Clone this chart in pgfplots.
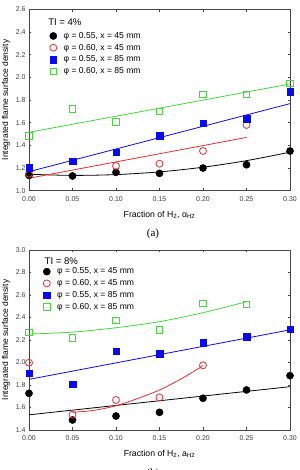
\documentclass[border=0pt]{standalone}
\usepackage{fontspec}
\setmainfont{Liberation Sans}
\newfontfamily\serifa{Liberation Serif}
\usepackage{pgfplots}
\pgfplotsset{compat=1.18}
\definecolor{cred}{RGB}{235,45,45}
\definecolor{cblue}{RGB}{10,10,235}
\definecolor{cgreen}{RGB}{70,215,60}
\definecolor{axgray}{RGB}{70,70,70}
\pgfplotsset{
  mystyle/.style={
    scale only axis, width=261bp,
    xmin=0, xmax=0.30,
    xtick={0,0.05,0.10,0.15,0.20,0.25,0.30},
    scaled x ticks=false, scaled y ticks=false,
    tick align=inside, major tick length=2.5bp,
    axis line style={axgray, line width=0.6pt},
    every tick/.style={axgray, line width=0.6pt},
    /pgf/number format/assume math mode=true,
    xticklabel style={font=\fontsize{7}{8}\selectfont, text=black!75, yshift=-2.5bp,
      /pgf/number format/.cd, fixed, fixed zerofill, precision=2},
    yticklabel style={font=\fontsize{7}{8}\selectfont, text=black!75,
      /pgf/number format/.cd, fixed, fixed zerofill, precision=1},
    ylabel={Integrated flame surface density},
    ylabel style={at={(axis description cs:-0.088,0.5)}, anchor=center, font=\fontsize{8.5}{10}\selectfont},
    xlabel style={at={(axis description cs:0.5,0)}, yshift=-24bp, anchor=center, font=\fontsize{8.7}{10}\selectfont},
    legend cell align=left,
    legend style={draw=none, fill=none, anchor=north west, inner sep=0pt,
      font=\fontsize{8.6}{10}\selectfont, row sep=1.3bp,
      nodes={inner sep=1pt, text height=6.5bp, text depth=2bp}},
  },
  fitline/.style={line width=0.8pt, forget plot, smooth},
  myleg/.style={legend image code/.code={\path (0cm,0cm) (0.52cm,0cm); \draw[##1] plot coordinates {(0.2cm,0cm)};}},
  sblack/.style={only marks, mark=*, mark size=3.6bp, black, mark options={fill=black}, myleg},
  sred/.style={only marks, mark=o, mark size=3.5bp, cred, mark options={line width=0.8pt}, myleg},
  sblue/.style={only marks, mark=square*, mark size=3.3bp, cblue, mark options={fill=cblue}, myleg},
  sgreen/.style={only marks, mark=square, mark size=3.2bp, cgreen, mark options={line width=0.8pt}, myleg},
}
\begin{document}
\begin{tikzpicture}
\path[use as bounding box] (0,0) rectangle (300bp,470bp);
% ---------- (a) TI = 4% ----------
\begin{axis}[mystyle, at={(29bp,279.3bp)}, anchor=south west, height=181.4bp,
  ymin=1.0, ymax=2.6, ytick={1.0,1.2,1.4,1.6,1.8,2.0,2.2,2.4,2.6},
  xlabel={Fraction of H\textsubscript{2}, α\textsubscript{H2}},
  legend style={at={(rel axis cs:0.07,0.883)}}]
\addplot[fitline, black] coordinates {(0,1.145) (0.05,1.135) (0.10,1.142) (0.15,1.166) (0.20,1.207) (0.25,1.265) (0.30,1.34)};
\addplot[fitline, cred] coordinates {(0,1.11) (0.25,1.47)};
\addplot[fitline, cblue] coordinates {(0,1.168) (0.30,1.768)};
\addplot[fitline, cgreen] coordinates {(0,1.515) (0.30,1.941)};
\addplot[sblack] coordinates {(0,1.135) (0.05,1.130) (0.10,1.162) (0.15,1.153) (0.20,1.200) (0.25,1.229) (0.30,1.350)};
\addlegendentry{φ = 0.55, x = 45 mm}
\addplot[sred] coordinates {(0,1.15) (0.10,1.218) (0.15,1.238) (0.20,1.350) (0.25,1.580)};
\addlegendentry{φ = 0.60, x = 45 mm}
\addplot[sblue] coordinates {(0,1.203) (0.05,1.259) (0.10,1.341) (0.15,1.485) (0.20,1.594) (0.25,1.635) (0.30,1.871)};
\addlegendentry{φ = 0.55, x = 85 mm}
\addplot[sgreen] coordinates {(0,1.482) (0.05,1.721) (0.10,1.606) (0.15,1.697) (0.20,1.847) (0.25,1.847) (0.30,1.944)};
\addlegendentry{φ = 0.60, x = 85 mm}
\node[anchor=west, inner sep=0pt, font=\fontsize{9.6}{11}\selectfont] at (rel axis cs:0.073,0.927) {TI = 4\%};
\end{axis}
% ---------- (b) TI = 8% ----------
\begin{axis}[mystyle, at={(29bp,40bp)}, anchor=south west, height=180bp,
  ymin=1.4, ymax=3.0, ytick={1.4,1.6,1.8,2.0,2.2,2.4,2.6,2.8,3.0},
  xlabel={Fraction of H\textsubscript{2}, a\textsubscript{H2}},
  legend style={at={(rel axis cs:0.045,0.91)}}]
\addplot[fitline, black] coordinates {(0,1.535) (0.30,1.785)};
\addplot[fitline, cred] coordinates {(0.05,1.557) (0.075,1.575) (0.10,1.616) (0.125,1.68) (0.15,1.756) (0.175,1.855) (0.20,1.972)};
\addplot[fitline, cblue] coordinates {(0,1.85) (0.30,2.29)};
\addplot[fitline, cgreen] coordinates {(0,2.253) (0.05,2.27) (0.10,2.309) (0.15,2.363) (0.20,2.443) (0.25,2.54)};
\addplot[sblack] coordinates {(0,1.726) (0.05,1.489) (0.10,1.524) (0.15,1.557) (0.20,1.682) (0.25,1.756) (0.30,1.883)};
\addlegendentry{φ = 0.55, x = 45 mm}
\addplot[sred] coordinates {(0,1.998) (0.05,1.536) (0.10,1.667) (0.15,1.690) (0.20,1.975)};
\addlegendentry{φ = 0.60, x = 45 mm}
\addplot[sblue] coordinates {(0,1.904) (0.05,1.806) (0.10,2.099) (0.15,2.076) (0.20,2.176) (0.25,2.230) (0.30,2.295)};
\addlegendentry{φ = 0.55, x = 85 mm}
\addplot[sgreen] coordinates {(0,2.265) (0.05,2.218) (0.10,2.375) (0.15,2.289) (0.20,2.526) (0.25,2.517)};
\addlegendentry{φ = 0.60, x = 85 mm}
\node[anchor=west, inner sep=0pt, font=\fontsize{9.6}{11}\selectfont] at (rel axis cs:0.0594,0.936) {TI = 8\%};
\end{axis}
\node[font=\serifa\fontsize{11}{13}\selectfont] at (153bp,236bp) {(a)};
\node[font=\serifa\fontsize{11}{13}\selectfont] at (153bp,-4bp) {(b)};
\end{tikzpicture}
\end{document}
